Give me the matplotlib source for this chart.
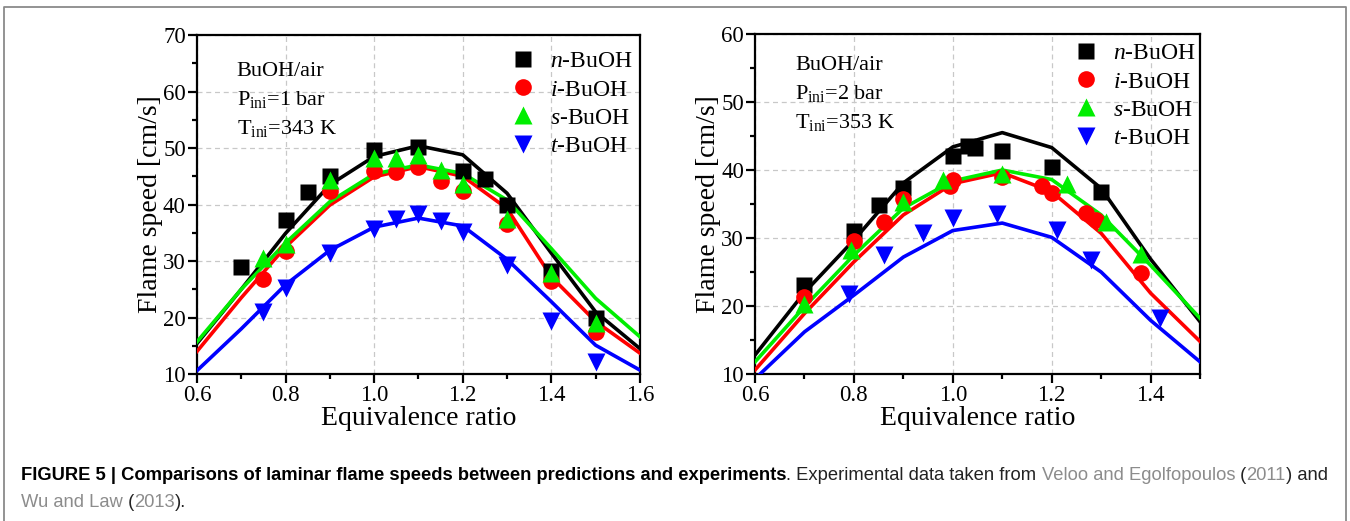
import matplotlib
matplotlib.use("Agg")
import matplotlib.pyplot as plt
from matplotlib.lines import Line2D
from matplotlib.ticker import MultipleLocator
import numpy as np

plt.rcParams["font.family"] = ["Liberation Serif", "DejaVu Serif"]
plt.rcParams["mathtext.fontset"] = "custom"
plt.rcParams["mathtext.rm"] = "Liberation Serif"
plt.rcParams["mathtext.it"] = "Liberation Serif:italic"

fuels = ["n", "i", "s", "t"]
colors = {"n": "#000000", "i": "#ff0000", "s": "#00ee00", "t": "#0000ff"}
markers = {"n": "s", "i": "o", "s": "^", "t": "v"}
msizes = {"n": 11, "i": 12, "s": 13, "t": 13}

# ---- 1 bar, 343 K ----
phi_sim_1 = [0.6, 0.7, 0.8, 0.9, 1.0, 1.1, 1.2, 1.3, 1.4, 1.5, 1.6]
sim_1 = {
    "n": [15.4, 25.0, 34.9, 43.5, 48.5, 50.4, 48.8, 42.0, 31.4, 21.0, 14.5],
    "i": [14.0, 23.5, 32.5, 39.9, 44.9, 46.7, 45.0, 39.3, 27.2, 19.3, 13.7],
    "s": [15.7, 25.0, 33.2, 40.5, 45.4, 47.0, 45.5, 40.8, 32.2, 23.4, 16.6],
    "t": [10.6, 18.0, 25.8, 31.9, 36.0, 37.6, 36.2, 30.3, 22.8, 15.1, 10.7],
}
exp_phi_1 = {
    "n": [0.7, 0.8, 0.85, 0.9, 1.0, 1.1, 1.2, 1.25, 1.3, 1.4, 1.5],
    "i": [0.75, 0.8, 0.9, 1.0, 1.05, 1.1, 1.15, 1.2, 1.3, 1.4, 1.5],
    "s": [0.75, 0.8, 0.9, 1.0, 1.05, 1.1, 1.15, 1.2, 1.3, 1.4, 1.5],
    "t": [0.75, 0.8, 0.9, 1.0, 1.05, 1.1, 1.15, 1.2, 1.3, 1.4, 1.5],
}
exp_su_1 = {
    "n": [28.9, 37.3, 42.3, 45.0, 49.6, 50.2, 46.0, 44.6, 39.9, 28.3, 20.0],
    "i": [26.9, 31.8, 42.4, 46.0, 45.8, 46.7, 44.2, 42.4, 36.5, 26.5, 17.5],
    "s": [30.6, 33.0, 44.3, 48.2, 48.2, 48.8, 46.1, 43.6, 37.5, 27.8, 19.1],
    "t": [21.0, 25.2, 31.4, 35.6, 37.4, 38.4, 37.0, 35.2, 29.3, 19.3, 12.2],
}

# ---- 2 bar, 353 K ----
phi_sim_2 = [0.6, 0.7, 0.8, 0.9, 1.0, 1.1, 1.2, 1.3, 1.4, 1.5]
sim_2 = {
    "n": [12.8, 22.0, 29.7, 38.1, 43.4, 45.5, 43.3, 37.3, 26.9, 17.7],
    "i": [10.6, 18.9, 26.5, 33.4, 38.0, 39.6, 36.8, 30.7, 21.9, 14.8],
    "s": [11.8, 19.9, 27.5, 34.4, 38.4, 40.0, 38.6, 33.4, 26.0, 18.2],
    "t": [9.3, 16.2, 21.6, 27.2, 31.1, 32.2, 30.1, 25.0, 17.9, 11.8],
}
exp_phi_2 = {
    "n": [0.70, 0.80, 0.85, 0.90, 1.00, 1.03, 1.045, 1.10, 1.20, 1.30],
    "i": [0.70, 0.80, 0.86, 0.90, 0.995, 1.00, 1.10, 1.18, 1.20, 1.27, 1.29, 1.38],
    "s": [0.70, 0.795, 0.90, 0.98, 1.10, 1.23, 1.31, 1.38],
    "t": [0.79, 0.86, 0.94, 1.00, 1.09, 1.21, 1.28, 1.42],
}
exp_su_2 = {
    "n": [23.1, 31.1, 34.9, 37.3, 42.1, 43.5, 43.2, 42.8, 40.5, 36.7],
    "i": [21.3, 29.5, 32.3, 35.7, 37.6, 38.6, 39.0, 37.7, 36.6, 33.7, 32.6, 24.9],
    "s": [20.3, 28.2, 35.3, 38.6, 39.4, 37.9, 32.4, 27.7],
    "t": [21.8, 27.5, 30.7, 32.9, 33.5, 31.2, 26.8, 18.2],
}

labels = {f: r"$\mathit{%s}$-BuOH" % f for f in fuels}


def draw_panel(ax, phi_sim, sim, exp_phi, exp_su, xlim, ylim, note,
               note_y, leg_anchor):
    for f in fuels:
        ax.plot(phi_sim, sim[f], color=colors[f], lw=2.6, zorder=3)
    for f in fuels:
        ax.plot(exp_phi[f], exp_su[f], ls="none", marker=markers[f],
                ms=msizes[f], color=colors[f], mec="none", zorder=4)
    ax.set_xlim(*xlim)
    ax.set_ylim(*ylim)
    ax.xaxis.set_major_locator(MultipleLocator(0.2))
    ax.xaxis.set_minor_locator(MultipleLocator(0.1))
    ax.yaxis.set_major_locator(MultipleLocator(10))
    ax.yaxis.set_minor_locator(MultipleLocator(5))
    ax.grid(True, which="major", ls=(0, (4, 3)), color="#c8c8c8", lw=0.9)
    ax.set_axisbelow(True)
    ax.tick_params(which="both", direction="out", width=1.6, labelsize=16.5,
                   top=False, right=False, pad=1.5)
    ax.tick_params(which="major", length=6.5)
    ax.tick_params(which="minor", length=3.5)
    for s in ax.spines.values():
        s.set_linewidth(1.6)
    ax.set_xlabel("Equivalence ratio", fontsize=20, labelpad=0)
    ax.set_ylabel("Flame speed [cm/s]", fontsize=20, labelpad=0)
    ax.text(0.09, note_y, note, transform=ax.transAxes, fontsize=16,
            va="top", ha="left", linespacing=1.5)
    handles = [Line2D([], [], ls="none", marker=markers[f], ms=msizes[f],
                      color=colors[f], mec="none") for f in fuels]
    ax.legend(handles, [labels[f] for f in fuels], loc="upper right",
              bbox_to_anchor=leg_anchor, frameon=False, fontsize=17,
              handlelength=1.0, handletextpad=0.65, labelspacing=0.28,
              borderpad=0, borderaxespad=0)


fig = plt.figure(figsize=(13.5, 5.21), dpi=100)
ax1 = fig.add_axes([0.1459, 0.2821, 0.3281, 0.6507])
ax2 = fig.add_axes([0.5593, 0.2821, 0.3296, 0.6526])

draw_panel(ax1, phi_sim_1, sim_1, exp_phi_1, exp_su_1, (0.6, 1.6), (10, 70),
           "BuOH/air\nP$_{\\mathrm{ini}}$=1 bar\nT$_{\\mathrm{ini}}$=343 K",
           0.92, (0.984, 0.953))
draw_panel(ax2, phi_sim_2, sim_2, exp_phi_2, exp_su_2, (0.6, 1.5), (10, 60),
           "BuOH/air\nP$_{\\mathrm{ini}}$=2 bar\nT$_{\\mathrm{ini}}$=353 K",
           0.935, (0.99, 0.974))

# frame around the figure (open at the bottom)
frame_x = [4 / 1350, 4 / 1350, 1346 / 1350, 1346 / 1350]
frame_y = [0.0, 1 - 7 / 521, 1 - 7 / 521, 0.0]
fig.add_artist(Line2D(frame_x, frame_y, transform=fig.transFigure,
                      color="#8a8a8a", lw=1.3))

# caption, written piece by piece so colours and weights can change
cap_font = ["Liberation Sans Narrow", "Liberation Sans", "DejaVu Sans"]
cap_size = 13.2
gray = "#8c8c8c"
line1 = [
    ("FIGURE 5 | Comparisons of laminar flame speeds between predictions and experiments", "bold", "black"),
    (". Experimental data taken from ", "normal", "#222222"),
    ("Veloo and Egolfopoulos", "normal", gray),
    (" (", "normal", "#222222"),
    ("2011", "normal", gray),
    (") and", "normal", "#222222"),
]
line2 = [
    ("Wu and Law", "normal", gray),
    (" (", "normal", "#222222"),
    ("2013", "normal", gray),
    (").", "normal", "#222222"),
]

renderer = fig.canvas.get_renderer()


def caption_line(x_px, y_px, parts):
    x = x_px
    for text, weight, color in parts:
        t = fig.text(x / 1350, 1 - y_px / 521, text, family=cap_font,
                     fontsize=cap_size, weight=weight, color=color,
                     va="baseline", ha="left")
        x = t.get_window_extent(renderer=renderer).x1


caption_line(21, 480, line1)
caption_line(21, 507, line2)

fig.savefig("out.png", dpi=100)
